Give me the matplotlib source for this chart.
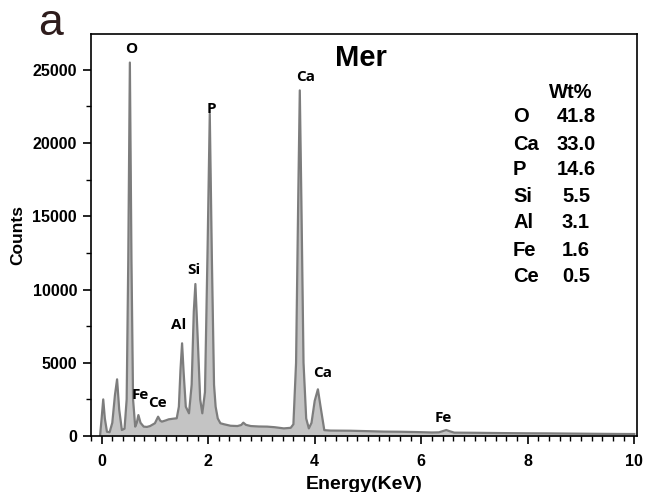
import matplotlib.pyplot as plt
from matplotlib.ticker import MultipleLocator

# EDS spectrum traced as (energy, counts) pairs
energy = [-0.03, 0.00, 0.03, 0.06, 0.10, 0.15, 0.20, 0.25, 0.29, 0.33, 0.38, 0.43,
          0.47, 0.50, 0.53, 0.56, 0.59, 0.63, 0.66, 0.69, 0.73, 0.79, 0.85, 0.91,
          1.00, 1.06, 1.10, 1.13, 1.20, 1.26, 1.34, 1.41, 1.45, 1.48, 1.51, 1.54,
          1.58, 1.64, 1.69, 1.73, 1.76, 1.80, 1.85, 1.89, 1.94, 1.99, 2.03, 2.07,
          2.11, 2.14, 2.18, 2.23, 2.30, 2.42, 2.55, 2.62, 2.66, 2.71, 2.80, 2.95,
          3.11, 3.25, 3.42, 3.55, 3.60, 3.65, 3.69, 3.72, 3.75, 3.79, 3.84, 3.89,
          3.94, 4.00, 4.06, 4.11, 4.18, 4.30, 4.67, 5.00, 5.30, 5.61, 5.90, 6.20,
          6.33, 6.42, 6.47, 6.53, 6.62, 7.00, 7.50, 8.00, 8.36, 8.80, 9.30, 9.70,
          10.00]
counts = [0, 1200, 2500, 1200, 290, 260, 900, 2800, 3870, 1800, 410, 500,
          2500, 12000, 25500, 12000, 2500, 640, 900, 1430, 900, 640, 620, 680,
          870, 1320, 1050, 980, 1060, 1140, 1180, 1210, 2000, 4500, 6330, 4300,
          2000, 1550, 3500, 8500, 10380, 7000, 2500, 1550, 3000, 13000, 22000, 12000,
          3500, 2000, 1200, 870, 800, 700, 680, 750, 910, 760, 680, 650,
          640, 600, 520, 560, 800, 5000, 16000, 23600, 16000, 5000, 1200, 520,
          900, 2400, 3190, 2000, 400, 370, 360, 330, 300, 290, 270, 240,
          250, 350, 410, 330, 230, 220, 200, 185, 180, 165, 150, 140,
          135]

# peak annotations: label, energy, counts
peak_labels = ["O", "P", "Ca", "Si", "Al", "Fe", "Ce", "Ca", "Fe"]
peak_x = [0.56, 2.06, 3.83, 1.73, 1.44, 0.73, 1.05, 4.15, 6.42]
peak_y = [26400, 22300, 24500, 11350, 7600, 2800, 2250, 4300, 1250]

# composition table
elements = ["O", "Ca", "P", "Si", "Al", "Fe", "Ce"]
wt_pct = [41.8, 33.0, 14.6, 5.5, 3.1, 1.6, 0.5]

BOLD = dict(family="Liberation Sans", fontweight="bold")

fig = plt.figure(figsize=(6.48, 4.92), dpi=100)
ax = fig.add_axes([0.1404, 0.1138, 0.8426, 0.8171])

ax.fill_between(energy, counts, 0, color="#c4c4c4", lw=0)
ax.plot(energy, counts, color="#7d7d7d", lw=1.6)

ax.set_xlim(-0.2, 10.05)
ax.set_ylim(0, 27450)
ax.xaxis.set_major_locator(MultipleLocator(2))
ax.xaxis.set_minor_locator(MultipleLocator(0.2))
ax.yaxis.set_major_locator(MultipleLocator(5000))
ax.yaxis.set_minor_locator(MultipleLocator(2500))
ax.tick_params(which="major", direction="out", length=6, width=1.2)
ax.tick_params(which="minor", direction="out", length=3.5, width=1.0)
ax.tick_params(axis="x", which="major", pad=7)
ax.tick_params(axis="y", which="major", pad=4)
for lbl in ax.get_xticklabels() + ax.get_yticklabels():
    lbl.set_fontfamily("Liberation Sans")
    lbl.set_fontweight("bold")
    lbl.set_fontsize(11.5)
for sp in ax.spines.values():
    sp.set_linewidth(1.2)

ax.set_xlabel("Energy(KeV)", fontsize=14, labelpad=5, **BOLD)
ax.set_ylabel("Counts", fontsize=12.5, labelpad=5, **BOLD)

for name, x, y in zip(peak_labels, peak_x, peak_y):
    ax.text(x, y, name, ha="center", va="center", fontsize=11,
            family="Open Sans", fontweight="bold")

# Wt% table in the upper right, placed in figure pixels
fx = lambda px: px / 648
fy = lambda py: 1 - py / 492
fig.text(fx(361), fy(58), "Mer", ha="center", va="center", fontsize=21, **BOLD)
fig.text(fx(571), fy(92), "Wt%", ha="center", va="center", fontsize=14.5, **BOLD)
row_y = [117, 144, 170, 197, 223, 250, 277]
for el, v, py in zip(elements, wt_pct, row_y):
    fig.text(fx(513), fy(py), el, ha="left", va="center", fontsize=14.5, **BOLD)
    fig.text(fx(576), fy(py), f"{v:.1f}", ha="center", va="center",
             fontsize=14.5, **BOLD)

fig.text(fx(50), fy(35), "a", ha="center", va="baseline", fontsize=32,
         family="Liberation Sans", color="#2e1c1c")

fig.savefig("out.png", dpi=100)
